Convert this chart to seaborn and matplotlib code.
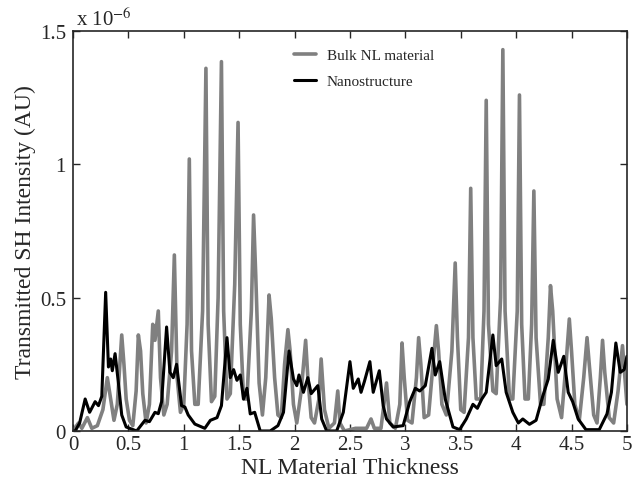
import matplotlib
matplotlib.use("Agg")
import matplotlib.pyplot as plt
import seaborn as sns
import pandas as pd

# Bulk NL material (intensity in units of 1e-6)
bulk_x = [0.00, 0.05, 0.08, 0.13, 0.17, 0.22, 0.27, 0.31, 0.34, 0.37, 0.40, 0.44, 0.46, 0.48, 0.51,
          0.54, 0.57, 0.59, 0.61, 0.63, 0.66, 0.69, 0.72, 0.74, 0.77, 0.79, 0.82, 0.85, 0.89, 0.915,
          0.94, 0.97, 1.00, 1.03, 1.05, 1.07, 1.10, 1.13, 1.17, 1.20, 1.22, 1.25, 1.28, 1.31, 1.34,
          1.36, 1.39, 1.42, 1.46, 1.49, 1.51, 1.54, 1.57, 1.61, 1.63, 1.65, 1.68, 1.71, 1.74, 1.77,
          1.79, 1.82, 1.85, 1.88, 1.91, 1.94, 1.96, 1.99, 2.02, 2.06, 2.10, 2.12, 2.15, 2.18, 2.22,
          2.24, 2.27, 2.31, 2.36, 2.39, 2.41, 2.45, 2.55, 2.65, 2.69, 2.72, 2.78, 2.83, 2.86, 2.91,
          2.95, 2.97, 2.99, 3.02, 3.06, 3.10, 3.12, 3.14, 3.17, 3.21, 3.25, 3.28, 3.30, 3.33, 3.37,
          3.42, 3.45, 3.47, 3.50, 3.53, 3.57, 3.59, 3.61, 3.64, 3.68, 3.71, 3.73, 3.75, 3.79, 3.82,
          3.86, 3.88, 3.90, 3.94, 3.97, 4.01, 4.03, 4.05, 4.08, 4.11, 4.14, 4.16, 4.18, 4.22, 4.25,
          4.29, 4.31, 4.33, 4.37, 4.41, 4.45, 4.48, 4.50, 4.53, 4.57, 4.61, 4.64, 4.66, 4.70, 4.73,
          4.76, 4.78, 4.80, 4.84, 4.88, 4.92, 4.96, 5.00]
bulk_y = [0.00, 0.03, 0.01, 0.05, 0.01, 0.02, 0.08, 0.20, 0.12, 0.04, 0.10, 0.36, 0.25, 0.12, 0.04,
          0.02, 0.15, 0.36, 0.30, 0.14, 0.03, 0.10, 0.40, 0.34, 0.45, 0.20, 0.06, 0.10, 0.30, 0.66,
          0.20, 0.07, 0.10, 0.40, 1.02, 0.30, 0.10, 0.10, 0.45, 1.36, 0.40, 0.11, 0.13, 0.50, 1.385,
          0.45, 0.12, 0.14, 0.55, 1.157, 0.40, 0.12, 0.12, 0.45, 0.81, 0.58, 0.18, 0.06, 0.20, 0.51,
          0.42, 0.20, 0.06, 0.05, 0.25, 0.38, 0.30, 0.10, 0.03, 0.15, 0.34, 0.20, 0.05, 0.03, 0.12,
          0.27, 0.08, 0.01, 0.03, 0.15, 0.03, 0.00, 0.01, 0.01, 0.045, 0.01, 0.01, 0.18, 0.03, 0.01,
          0.10, 0.33, 0.20, 0.04, 0.03, 0.20, 0.35, 0.25, 0.05, 0.06, 0.25, 0.395, 0.30, 0.10, 0.06,
          0.30, 0.63, 0.35, 0.08, 0.07, 0.35, 0.91, 0.35, 0.12, 0.12, 0.45, 1.24, 0.40, 0.15, 0.14,
          0.50, 1.43, 0.45, 0.12, 0.12, 0.45, 1.26, 0.40, 0.12, 0.12, 0.40, 0.90, 0.35, 0.10, 0.10,
          0.35, 0.545, 0.45, 0.12, 0.05, 0.25, 0.42, 0.30, 0.10, 0.04, 0.20, 0.35, 0.25, 0.06, 0.03,
          0.20, 0.34, 0.22, 0.05, 0.03, 0.15, 0.32, 0.10]

# Nanostructure (intensity in units of 1e-6)
nano_x = [0.00, 0.02, 0.06, 0.11, 0.15, 0.20, 0.23, 0.26, 0.295, 0.32, 0.34, 0.355, 0.38, 0.41, 0.44,
          0.48, 0.575, 0.65, 0.69, 0.74, 0.77, 0.80, 0.845, 0.875, 0.905, 0.935, 0.98, 1.01, 1.04, 1.10,
          1.19, 1.24, 1.30, 1.34, 1.39, 1.42, 1.45, 1.48, 1.51, 1.54, 1.57, 1.60, 1.64, 1.69, 1.78,
          1.85, 1.90, 1.95, 1.99, 2.02, 2.04, 2.08, 2.12, 2.15, 2.21, 2.245, 2.29, 2.38, 2.44, 2.50,
          2.53, 2.575, 2.60, 2.63, 2.68, 2.71, 2.765, 2.80, 2.83, 2.89, 2.98, 3.04, 3.09, 3.13, 3.18,
          3.24, 3.27, 3.31, 3.36, 3.40, 3.43, 3.49, 3.55, 3.61, 3.65, 3.69, 3.73, 3.79, 3.82, 3.87,
          3.91, 3.97, 4.02, 4.06, 4.12, 4.18, 4.24, 4.29, 4.335, 4.38, 4.43, 4.47, 4.51, 4.56, 4.63,
          4.75, 4.82, 4.86, 4.90, 4.94, 4.975, 5.00]
nano_y = [0.00, 0.00, 0.03, 0.12, 0.07, 0.11, 0.095, 0.13, 0.52, 0.24, 0.27, 0.226, 0.29, 0.18, 0.06,
          0.015, 0.00, 0.04, 0.035, 0.07, 0.065, 0.11, 0.39, 0.22, 0.20, 0.25, 0.095, 0.09, 0.06, 0.026,
          0.01, 0.04, 0.05, 0.095, 0.35, 0.20, 0.23, 0.19, 0.21, 0.12, 0.16, 0.064, 0.07, 0.00, 0.00,
          0.02, 0.07, 0.30, 0.195, 0.17, 0.21, 0.145, 0.20, 0.14, 0.17, 0.045, 0.00, 0.00, 0.07, 0.26,
          0.16, 0.195, 0.145, 0.185, 0.26, 0.145, 0.226, 0.095, 0.045, 0.015, 0.02, 0.11, 0.16, 0.15, 0.17,
          0.31, 0.21, 0.26, 0.12, 0.06, 0.015, 0.005, 0.045, 0.10, 0.085, 0.12, 0.145, 0.36, 0.245, 0.27,
          0.145, 0.07, 0.03, 0.045, 0.025, 0.04, 0.13, 0.195, 0.34, 0.22, 0.28, 0.145, 0.11, 0.045, 0.005,
          0.005, 0.064, 0.145, 0.33, 0.22, 0.23, 0.28]

series_names = ["Bulk NL material", "Nanostructure"]
x_ticks = [0, 0.5, 1, 1.5, 2, 2.5, 3, 3.5, 4, 4.5, 5]
x_tick_labels = ["0", "0.5", "1", "1.5", "2", "2.5", "3", "3.5", "4", "4.5", "5"]
y_ticks = [0, 0.5, 1, 1.5]
y_tick_labels = ["0", "0.5", "1", "1.5"]

sns.set_style("ticks")
plt.rcParams["font.family"] = ["Liberation Serif", "DejaVu Serif"]
plt.rcParams["mathtext.fontset"] = "stix"

fig = plt.figure(figsize=(6.43, 4.81), dpi=100)
ax = fig.add_axes([0.1135, 0.1019, 0.8615, 0.8316])

df_bulk = pd.DataFrame({"x": bulk_x, "y": bulk_y})
df_nano = pd.DataFrame({"x": nano_x, "y": nano_y})
sns.lineplot(data=df_bulk, x="x", y="y", ax=ax, color="#808080", linewidth=2.6,
             label=series_names[0], estimator=None, sort=False)
sns.lineplot(data=df_nano, x="x", y="y", ax=ax, color="black", linewidth=2.2,
             label=series_names[1], estimator=None, sort=False)

ax.set_xlim(0, 5)
ax.set_ylim(0, 1.5)
ax.set_xticks(x_ticks)
ax.set_xticklabels(x_tick_labels)
ax.set_yticks(y_ticks)
ax.set_yticklabels(y_tick_labels)
ax.tick_params(direction="in", top=True, right=True, length=5, width=1,
               labelsize=15)
ax.tick_params(axis="x", pad=3)
ax.tick_params(axis="y", pad=5)
for s in ax.spines.values():
    s.set_linewidth(1.2)
    s.set_visible(True)

ax.set_xlabel("NL Material Thickness", fontsize=17, labelpad=2)
ax.set_ylabel("Transmitted SH Intensity (AU)", fontsize=17, labelpad=3)
ax.text(0.005, 1.003, r"x 10$^{-6}$", transform=ax.transAxes, fontsize=15,
        ha="left", va="bottom")

leg = ax.legend(loc="upper center", bbox_to_anchor=(0.525, 0.99), frameon=False,
                fontsize=11, handlelength=1.45, handletextpad=0.7, labelspacing=0.8)

fig.savefig("out.png", dpi=100)
